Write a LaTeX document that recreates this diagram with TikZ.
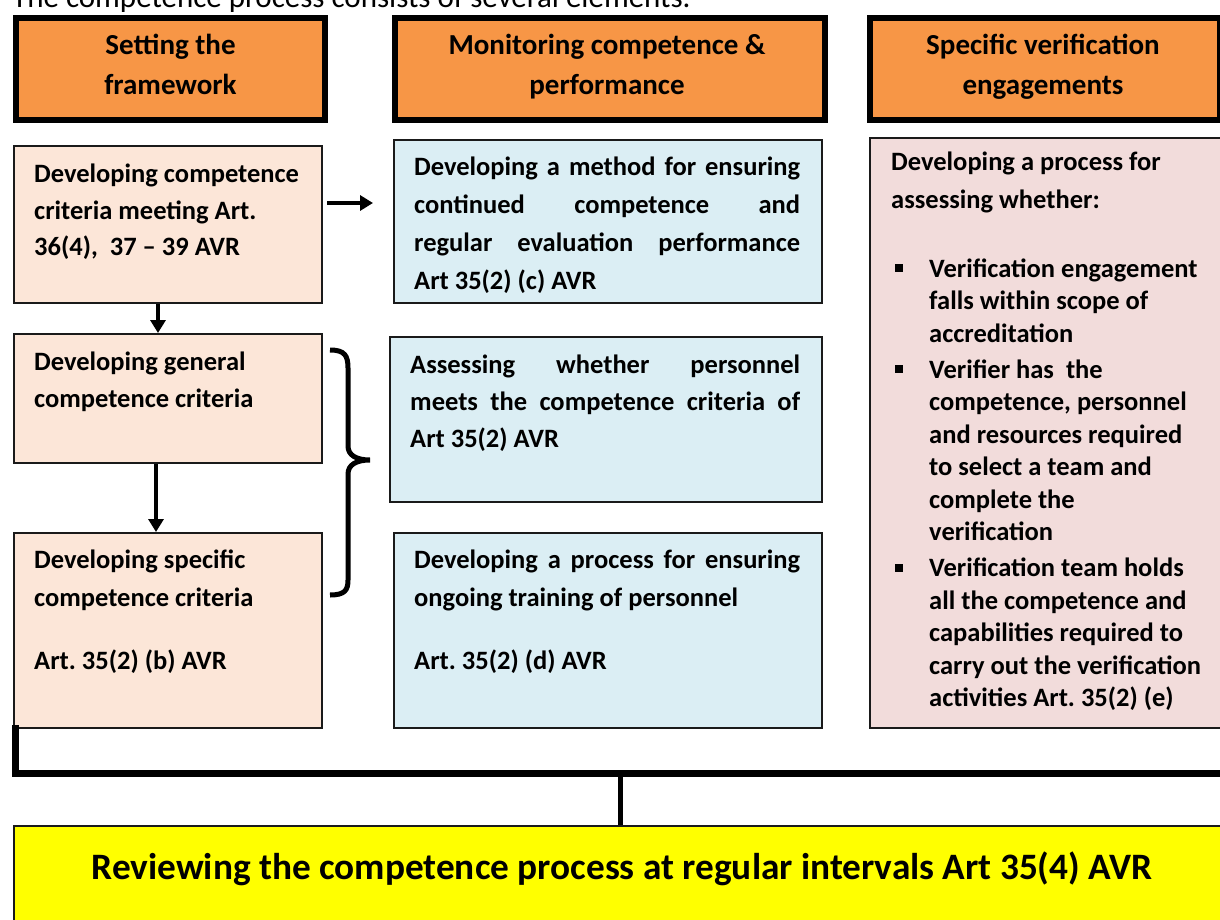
\documentclass[tikz,border=0pt]{standalone}
\usepackage{fontspec}
\setmainfont{Carlito}
\usetikzlibrary{arrows.meta}
\definecolor{hdrfill}{HTML}{F79646}
\definecolor{peach}{HTML}{FCE6D8}
\definecolor{lblue}{HTML}{DBEEF4}
\definecolor{pink}{HTML}{F2DCDB}
\definecolor{ybox}{HTML}{FFFF00}
\definecolor{bord}{HTML}{1A1A1A}
\frenchspacing
\newcommand\sqbul{\leavevmode\llap{\rule[5pt]{8pt}{8pt}\hspace{26pt}}}
\begin{document}
\begin{tikzpicture}[x=1pt,y=-1pt,
  hbox/.style={draw=black, line width=6pt, fill=hdrfill, inner sep=0pt, anchor=north west},
  cbox/.style={draw=bord, line width=2pt, inner sep=0pt, anchor=north west},
  htext/.style={anchor=base, inner sep=0pt},
  btext/.style={anchor=base west, inner sep=0pt},
  arr/.style={line width=4pt, -{Triangle[length=13pt,width=15pt]}}
]
\useasboundingbox (0,0) rectangle (1220,920);
\clip (0,0) rectangle (1220,920);
% caption (cut off at top)
\node[anchor=base west, inner sep=0pt, font=\fontsize{31}{36}\selectfont\frenchspacing] (cap) at (12,8) {The competence process consists of several elements.};
% headers
\node[hbox, minimum width=309pt, minimum height=102pt] (h1) at (13,15) {};
\node[hbox, minimum width=430pt, minimum height=102pt] (h2) at (392,15) {};
\node[hbox, minimum width=350pt, minimum height=102pt] (h3) at (867,15) {};
\node[htext] (h1t) at (h1.north |- 0,55) {\parbox[t]{300pt}{\centering\fontsize{29}{40}\selectfont\bfseries Setting the\\framework}};
\node[htext] (h2t) at (607,55) {\parbox[t]{420pt}{\centering\fontsize{29}{40}\selectfont\bfseries Monitoring competence \&\\performance}};
\node[htext] (h3t) at (1043,55) {\parbox[t]{340pt}{\centering\fontsize{29}{40}\selectfont\bfseries Specific verification\\engagements}};
% left column
\node[cbox, fill=peach, minimum width=308pt, minimum height=157pt] (lb1) at (13,145) {};
\node[cbox, fill=peach, minimum width=308pt, minimum height=129pt] (lb2) at (13,333) {};
\node[cbox, fill=peach, minimum width=308pt, minimum height=195pt] (lb3) at (13,532) {};
\node[btext] (lb1t) at (34,183) {\parbox[t]{285pt}{\fontsize{26.5}{36.5}\selectfont\bfseries\frenchspacing\raggedright
  Developing competence\\criteria meeting Art.\\36(4),~~37 -- 39 AVR}};
\node[btext] (lb2t) at (34,370) {\parbox[t]{285pt}{\fontsize{26.5}{37}\selectfont\bfseries\raggedright
  Developing general\\competence criteria}};
\node[btext] (lb3t) at (34,568) {\parbox[t]{285pt}{\fontsize{26.5}{38}\selectfont\bfseries\frenchspacing\raggedright
  Developing specific\\competence criteria\\[25pt]Art. 35(2) (b) AVR}};
% middle column
\node[cbox, fill=lblue, minimum width=428pt, minimum height=163pt] (bb1) at (393,139) {};
\node[cbox, fill=lblue, minimum width=432pt, minimum height=165pt] (bb2) at (389,336) {};
\node[cbox, fill=lblue, minimum width=428pt, minimum height=195pt] (bb3) at (393,532) {};
\node[btext] (bb1t) at (414,176) {\parbox[t]{386pt}{\fontsize{26.5}{37.7}\selectfont\bfseries\raggedright
  \makebox[386pt][s]{Developing a method for ensuring}\\
  \makebox[386pt][s]{continued competence and}\\
  \makebox[386pt][s]{regular evaluation performance}\\
  Art 35(2) (c) AVR}};
\node[btext] (bb2t) at (410,373) {\parbox[t]{390pt}{\fontsize{26.5}{37}\selectfont\bfseries\raggedright
  \makebox[390pt][s]{Assessing whether personnel}\\
  \makebox[390pt][s]{meets the competence criteria of}\\
  Art 35(2) AVR}};
\node[btext] (bb3t) at (414,568) {\parbox[t]{386pt}{\fontsize{26.5}{38}\selectfont\bfseries\frenchspacing\raggedright
  \makebox[386pt][s]{Developing a process for ensuring}\\
  ongoing training of personnel\\[25pt]
  Art. 35(2) (d) AVR}};
% right column
\node[cbox, fill=pink, minimum width=380pt, minimum height=590pt] (pb) at (869,137) {};
\node[btext] (pbt) at (891,171) {\parbox[t]{320pt}{\fontsize{26.5}{38}\selectfont\bfseries\raggedright
  Developing a process for\\assessing whether:}};
\node[btext] (pbl) at (929,277) {\parbox[t]{290pt}{\fontsize{26.5}{32.5}\selectfont\bfseries\frenchspacing\raggedright
  \sqbul Verification engagement\\
  falls within scope of\\
  accreditation\\[3.5pt]
  \sqbul Verifier has~ the\\
  competence, personnel\\
  and resources required\\
  to select a team and\\
  complete the\\
  verification\\[3.5pt]
  \sqbul Verification team holds\\
  all the competence and\\
  capabilities required to\\
  carry out the verification\\
  activities Art. 35(2) (e)}};
% bottom box
\node[cbox, fill=ybox, minimum width=1240pt, minimum height=120pt] (yb) at (13,825) {};
\node[anchor=base, inner sep=0pt, font=\fontsize{37.3}{42}\selectfont\bfseries] (ybt) at (622,879) {Reviewing the competence process at regular intervals Art 35(4) AVR};
% connectors
\coordinate (a1end) at (373,203);
\draw[arr] ([xshift=4pt]lb1.east |- a1end) -- (a1end);
\draw[arr] ([xshift=-10pt]lb1.south) -- ([xshift=-10pt]lb2.north);
\draw[arr] ([xshift=-12pt]lb2.south) -- ([xshift=-12pt]lb3.north);
% brace
\draw[line width=5pt] (330,350) .. controls (345,350) and (348,356) .. (348,368) -- (348,446)
  .. controls (348,455) and (356,460) .. (370,460)
  .. controls (356,460) and (348,465) .. (348,474) -- (348,580)
  .. controls (348,590) and (345,595) .. (330,595);
% bus
\coordinate (busR) at (1230,773);
\coordinate (busM) at (620,773);
\draw[line width=7pt] ([xshift=2pt,yshift=4pt]lb3.south west) -- ([xshift=2pt]lb3.south west |- busR) -- (busR);
\draw[line width=5pt] (busM) -- (yb.north -| busM);
\end{tikzpicture}
\end{document}
